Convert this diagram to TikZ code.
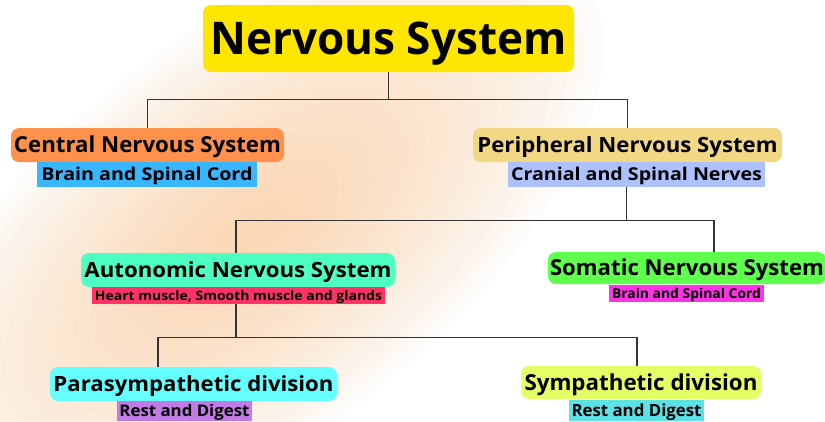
\documentclass[tikz,border=0pt]{standalone}
\usepackage{fontspec}
\usepackage{graphicx}
\setmainfont{Open Sans}
\definecolor{cTitle}{HTML}{FFE600}
\definecolor{cCNS}{HTML}{FF914D}
\definecolor{cCNSs}{HTML}{38B6FF}
\definecolor{cPNS}{HTML}{F2D785}
\definecolor{cPNSs}{HTML}{ADC0FF}
\definecolor{cANS}{HTML}{4DFFC1}
\definecolor{cANSs}{HTML}{FF3366}
\definecolor{cSNS}{HTML}{5EFF4D}
\definecolor{cSNSs}{HTML}{FF33E6}
\definecolor{cPSD}{HTML}{66FFFF}
\definecolor{cPSDs}{HTML}{C17AE6}
\definecolor{cSD}{HTML}{E5FF66}
\definecolor{cSDs}{HTML}{5CE1E6}
\definecolor{cLine}{HTML}{333333}
\definecolor{cGlow}{HTML}{FBC58C}
\newcommand{\Tx}[3]{{\fontsize{#1}{#1}\selectfont\bfseries\resizebox{#2}{\height}{#3}}}
\tikzset{
  mainbox/.style={rounded corners=8pt, inner sep=0pt, text depth=0pt, anchor=center},
  subbox/.style={inner sep=0pt, text depth=0pt, anchor=center},
  conn/.style={draw=cLine, line width=1.3pt}
}
\begin{document}
\begin{tikzpicture}[x=1pt,y=-1pt]
\useasboundingbox (0,0) rectangle (825,421);
\fill[white] (0,0) rectangle (825,421);
\begin{scope}
\clip (0,0) rectangle (825,421);
\begin{scope}[shift={(250,235)},rotate=38]
\foreach \i in {1,...,20}{
  \fill[cGlow, opacity=0.045] (0,0) ellipse ({21pt*\i} and {10pt*\i});
}
\end{scope}
\end{scope}

% title
\node[mainbox, fill=cTitle, minimum width=371pt, minimum height=67pt, text height=32.1pt] (title) at (388.5,38.5) {\Tx{45pt}{356pt}{Nervous System}};

% level 2
\node[mainbox, fill=cCNS, minimum width=273pt, minimum height=34pt, text height=15.7pt] (cns) at (147.5,145) {\Tx{22pt}{267pt}{Central Nervous System}};
\node[subbox, fill=cCNSs, minimum width=220pt, minimum height=25pt, text height=12.6pt] (cnssub) at (147,174.5) {\Tx{17.7pt}{211pt}{Brain and Spinal Cord}};

\node[mainbox, fill=cPNS, minimum width=309pt, minimum height=34pt, text height=15pt] (pns) at (627.5,145) {\Tx{21pt}{300pt}{Peripheral Nervous System}};
\node[subbox, fill=cPNSs, minimum width=257pt, minimum height=25pt, text height=12.6pt] (pnssub) at (636.5,174.5) {\Tx{17.7pt}{251pt}{Cranial and Spinal Nerves}};

% level 3
\node[mainbox, fill=cANS, minimum width=314pt, minimum height=34pt, text height=15pt] (ans) at (238,270) {\Tx{21pt}{307pt}{Autonomic Nervous System}};
\node[subbox, fill=cANSs, minimum width=293pt, minimum height=17pt, text height=9.3pt] (anssub) at (238.5,295.5) {\Tx{13pt}{287pt}{Heart muscle, Smooth muscle and glands}};

\begin{scope}
\clip (0,0) rectangle (825,421);
\node[mainbox, fill=cSNS, minimum width=278pt, minimum height=32pt, text height=15.7pt] (sns) at (687,268) {\Tx{22pt}{274pt}{Somatic Nervous System}};
\end{scope}
\node[subbox, fill=cSNSs, minimum width=155pt, minimum height=17pt, text height=9.6pt] (snssub) at (686.5,293.5) {\Tx{13.5pt}{149pt}{Brain and Spinal Cord}};

% level 4
\node[mainbox, fill=cPSD, minimum width=287pt, minimum height=34pt, text height=15pt] (psd) at (193.5,384) {\Tx{21pt}{280pt}{Parasympathetic division}};
\node[subbox, fill=cPSDs, minimum width=135pt, minimum height=20pt, text height=11.4pt] (psdsub) at (184.5,411) {\Tx{16pt}{130pt}{Rest and Digest}};

\node[mainbox, fill=cSD, minimum width=240pt, minimum height=33pt, text height=15.7pt] (sd) at (641,382.5) {\Tx{22pt}{233pt}{Sympathetic division}};
\node[subbox, fill=cSDs, minimum width=135pt, minimum height=21pt, text height=12pt] (sdsub) at (636.5,410.5) {\Tx{16.8pt}{130pt}{Rest and Digest}};

% connectors
\draw[conn] (title.south) -- ++(0,27) coordinate (j1);
\draw[conn] (cns.north) |- (j1) -| (pns.north);

\draw[conn] ([xshift=-10pt]pnssub.south) -- ++(0,33) coordinate (j2);
\draw[conn] ([xshift=-2pt]ans.north) |- (j2) -| ([xshift=27pt]sns.north);

\draw[conn] ([xshift=-2.5pt]anssub.south) -- ++(0,33) coordinate (j3);
\draw[conn] ([xshift=-35.5pt]psd.north) |- (j3) -| ([xshift=-4pt]sd.north);
\end{tikzpicture}
\end{document}
